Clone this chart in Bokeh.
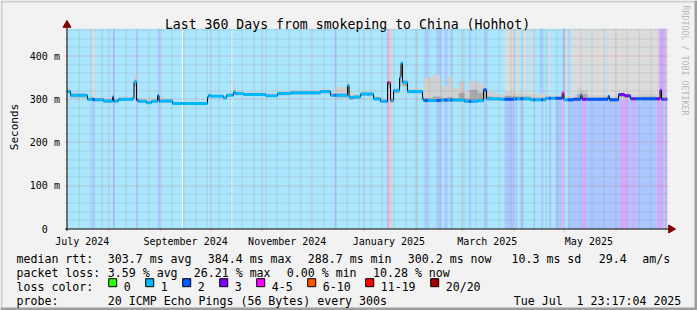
import bisect
import math
import pandas as pd
from bokeh.plotting import figure
from bokeh.models import Range1d
from bokeh.core.properties import value
from bokeh.embed import file_html
from bokeh.resources import INLINE

# ---------------- data ----------------
END_TIME = pd.Timestamp("2025-07-01 23:17:04")
SPAN_DAYS = 360
START_TIME = END_TIME - pd.Timedelta(days=SPAN_DAYS)
Y_TOP_MS = 463
SPLIT_MS = 300

title_text = "Last 360 Days from smokeping to China (Hohhot)"

# median rtt (step series, value holds from seg_day[i] to seg_day[i+1]); days since start
seg_day = [0.0, 2.0, 12.2, 15.8, 21.8, 27.2, 27.8, 30.8, 39.2, 40.1, 41.6, 42.8, 47.6, 50.6,
           54.2, 55.1, 63.2, 84.2, 84.8, 86.0, 93.8, 95.6, 99.8, 101.0, 105.8, 119.0, 126.2,
           134.0, 152.0, 158.0, 161.0, 168.2, 169.1, 171.8, 176.0, 183.8, 188.0, 192.2, 194.0,
           195.8, 199.4, 200.3, 201.2, 204.2, 213.2, 213.8, 219.2, 224.0, 228.2, 231.2, 234.8,
           238.4, 241.4, 246.2, 249.8, 251.6, 255.8, 259.4, 262.4, 269.0, 278.0, 287.0, 297.0,
           298.0, 303.8, 306.0, 308.0, 308.9, 312.2, 324.5, 325.4, 330.8, 334.4, 338.0, 344.0,
           353.6, 355.7, 356.6]
median_ms = [318, 309, 300, 299, 296, 305, 296, 300, 302, 340, 298, 295, 292, 295,
             308, 296, 290, 305, 309, 307, 303, 309, 316, 313, 311, 308, 313,
             315, 318, 309, 309, 332, 304, 305, 312, 301, 295, 338, 297,
             320, 350, 384, 339, 318, 301, 297, 297, 298, 298, 298, 298,
             295, 295, 297, 322, 301, 301, 300, 300, 301, 299, 302, 314,
             299, 300, 300, 308, 300, 300, 306, 299, 311, 308, 301, 301,
             301, 320, 300]
smoke_lo_ms = [314, 304, 296, 295, 291, 296, 292, 296, 297, 330, 294, 291, 289, 291,
               300, 292, 288, 300, 306, 305, 301, 306, 310, 309, 308, 305, 309,
               311, 313, 305, 304, 315, 299, 301, 308, 297, 291, 325, 292,
               314, 330, 360, 330, 314, 296, 293, 293, 294, 294, 294, 294,
               291, 291, 293, 300, 297, 297, 296, 296, 297, 295, 298, 300,
               295, 296, 296, 298, 296, 296, 298, 295, 304, 303, 297, 297,
               297, 302, 296]
smoke_mid_ms = [322, 312, 303, 302, 299, 309, 299, 303, 306, 345, 301, 298, 295, 298,
                311, 299, 292, 307, 311, 309, 305, 311, 322, 316, 313, 310, 316,
                318, 321, 312, 313, 336, 308, 308, 315, 304, 298, 342, 300,
                323, 360, 386, 342, 321, 305, 303, 306, 303, 305, 302, 315,
                302, 322, 315, 324, 306, 305, 304, 308, 306, 304, 305, 318,
                302, 304, 312, 318, 312, 304, 309, 302, 313, 311, 305, 306,
                305, 322, 304]
smoke_hi_ms = [326, 315, 306, 305, 302, 312, 302, 306, 310, 356, 305, 302, 299, 302,
               313, 302, 294, 309, 313, 311, 307, 313, 340, 319, 316, 313, 319,
               321, 324, 318, 328, 340, 316, 312, 318, 308, 302, 346, 304,
               326, 368, 388, 345, 324, 315, 350, 356, 330, 352, 325, 340,
               320, 342, 336, 326, 318, 312, 310, 317, 314, 312, 309, 320,
               306, 312, 325, 330, 322, 310, 311, 306, 316, 314, 309, 314,
               310, 324, 308]

# loss background bars below / above the split level (default level is "1")
lower_start = [15.0, 27.4, 41.6, 54.4, 68.8, 98.4, 160.4, 192.0, 193.2, 214.4, 221.6, 226.4,
               230.0, 241.0, 250.0, 262.4, 268.8, 272.0, 280.0, 284.4, 289.0, 293.0, 297.0,
               300.4, 309.0, 311.6, 331.6, 337.0, 339.0, 341.0, 353.6, 357.0, 358.6, 359.3]
lower_end = [16.6, 28.4, 42.2, 55.6, 69.4, 99.0, 161.4, 193.2, 194.4, 216.4, 224.4, 228.2,
             231.0, 242.4, 251.4, 268.0, 270.0, 273.6, 280.6, 285.6, 290.4, 297.0, 298.0,
             309.0, 311.6, 331.6, 337.0, 339.0, 341.0, 353.6, 357.0, 358.6, 359.3, 360.0]
lower_level = ["2", "2", "3", "2", "w", "w", "2", "3", "6-10", "2", "2", "2",
               "2", "2", "2", "2", "2", "2", "2", "2", "2", "2", "4-5",
               "2", "3", "2", "3", "2", "3", "2", "3", "2", "4-5", "2"]

upper_start = [15.0, 27.4, 41.6, 54.4, 68.8, 98.4, 160.4, 192.0, 193.2, 214.4, 221.6, 226.4,
               230.0, 241.0, 250.0, 262.8, 269.6, 273.6, 277.6, 283.6, 289.0, 297.2, 298.8,
               302.4, 312.0, 324.0, 355.0, 359.0]
upper_end = [16.6, 28.4, 42.2, 55.6, 69.4, 99.0, 161.4, 193.2, 194.4, 216.4, 224.4, 228.2,
             231.0, 242.4, 251.4, 268.0, 271.6, 275.6, 279.6, 285.6, 290.0, 298.8, 300.2,
             311.4, 323.4, 355.0, 359.0, 360.0]
upper_level = ["u", "2", "3", "2", "w", "w", "2", "3", "6-10", "2", "2", "2",
               "2", "2", "2", "u", "u", "u", "u", "2", "u", "2", "u",
               "u", "u", "u", "3", "u"]

loss_labels = ["0", "1", "2", "3", "4-5", "6-10", "11-19", "20/20"]
loss_colors = ["#26ff00", "#00b8ff", "#0059ff", "#7e00ff", "#ff00ff", "#ff5500", "#ff0000", "#a10000"]

label_months = ["2024-07-01", "2024-09-01", "2024-11-01", "2025-01-01", "2025-03-01", "2025-05-01"]
month_labels = ["July 2024", "September 2024", "November 2024", "January 2025", "March 2025", "May 2025"]
y_ticks_ms = [0, 100, 200, 300, 400]
y_tick_labels = ["0", "100 m", "200 m", "300 m", "400 m"]

rtt_items = ["median rtt:", "303.7 ms avg", "384.4 ms max", "288.7 ms min", "300.2 ms now",
             "10.3 ms sd", "29.4", "am/s"]
loss_items = ["packet loss:", "3.59 % avg", "26.21 % max", "0.00 % min", "10.28 % now"]
probe_items = ["probe:", "20 ICMP Echo Pings (56 Bytes) every 300s", "Tue Jul \u00a01 23:17:04 2025"]

# ---------------- layout helpers (pixels of the 697x310 canvas) ----------------
W, H = 697, 310
X0_PX, X1_PX = 66.7, 666.7
Y0_PX, Y1_PX = 228.3, 28.3
PXD = (X1_PX - X0_PX) / SPAN_DAYS
PXM = (Y0_PX - Y1_PX) / Y_TOP_MS


def fx(px):
    return (px - X0_PX) / PXD


def fy(py):
    return (Y0_PX - py) / PXM


def snap_day(d):
    return fx(math.floor(X0_PX + d * PXD) + 0.5)


def snap_ms(v):
    return fy(math.floor(Y0_PX - v * PXM) + 0.5)


def day_of(ts):
    return (pd.Timestamp(ts) - START_TIME) / pd.Timedelta(days=1)


def light(c):
    r, g, b = int(c[1:3], 16), int(c[3:5], 16), int(c[5:7], 16)
    return "#%02x%02x%02x" % tuple(int(round(v / 3 + 170)) for v in (r, g, b))


level_line = {"1": "#00b8ff", "2": "#0059ff", "3": "#7e00ff", "4-5": "#ff00ff",
              "6-10": "#ff5500", "w": "#00b8ff", "u": "#00b8ff"}
level_bg = {k: light(v) for k, v in level_line.items() if k not in ("w", "u")}
level_bg["w"] = "#ffffff"
level_bg["u"] = "#dcdcdc"

MONO = value("DejaVu Sans Mono")
BG = "#f2f2f2"
GRID = "#8f8f8f"
MGRID = "#de5050"

p = figure(width=W, height=H, x_range=Range1d(fx(0), fx(W)), y_range=Range1d(fy(H), fy(0)),
           x_axis_type=None, y_axis_type=None, toolbar_location=None, output_backend="svg",
           min_border=0, min_border_left=0, min_border_right=0, min_border_top=0, min_border_bottom=0,
           background_fill_color=BG, border_fill_color=BG, outline_line_color=None)
p.grid.visible = False

# canvas shade border
p.quad(left=[fx(0), fx(0)], right=[fx(W), fx(2)], top=[fy(0), fy(0)], bottom=[fy(2), fy(H)],
       color="#d0d0d0", line_color=None)
p.quad(left=[fx(0), fx(W - 3)], right=[fx(W), fx(W)], top=[fy(H - 3), fy(0)], bottom=[fy(H), fy(H)],
       color="#9e9e9e", line_color=None)

# loss background
p.quad(left=[0], right=[SPAN_DAYS], bottom=[0], top=[Y_TOP_MS], color=level_bg["1"], line_color=None)
p.quad(left=lower_start, right=lower_end, bottom=0, top=SPLIT_MS,
       color=[level_bg[l] for l in lower_level], line_color=None)
p.quad(left=upper_start, right=upper_end, bottom=SPLIT_MS, top=Y_TOP_MS,
       color=[level_bg[l] for l in upper_level], line_color=None)

# smoke
seg_end = seg_day[1:] + [SPAN_DAYS]
p.quad(left=seg_day, right=seg_end, bottom=smoke_mid_ms, top=smoke_hi_ms, color="#d0d0d0", line_color=None)
p.quad(left=seg_day, right=seg_end, bottom=smoke_lo_ms, top=smoke_mid_ms, color="#a8a8a8", line_color=None)

# grid
gx0, gx1 = fx(X0_PX - 2), fx(X1_PX + 2)
minor_y = [snap_ms(v) for v in range(20, Y_TOP_MS, 20) if v % 100]
major_y = [snap_ms(v) for v in y_ticks_ms if v > 0]
p.segment(x0=gx0, x1=gx1, y0=minor_y, y1=minor_y, line_color=GRID, line_alpha=0.5, line_dash="1 1")
month_starts = pd.date_range("2024-08-01", END_TIME, freq="MS")
month_days = [snap_day(day_of(m)) for m in month_starts]
weeks = [snap_day(day_of(w)) for w in pd.date_range(START_TIME.normalize(), END_TIME, freq="W-SUN")
         if w.day != 1 and w > START_TIME]
p.segment(x0=weeks, x1=weeks, y0=0, y1=Y_TOP_MS, line_color=GRID, line_alpha=0.5, line_dash="1 1")
p.segment(x0=gx0, x1=gx1, y0=major_y, y1=major_y, line_color=MGRID, line_alpha=0.5, line_dash="1 1")
p.segment(x0=month_days, x1=month_days, y0=fy(Y0_PX + 2.5), y1=Y_TOP_MS, line_color=MGRID,
          line_alpha=0.5, line_dash="1 1")

# median line: black steps, coloured by loss level
p.step(x=seg_day + [SPAN_DAYS], y=median_ms + [median_ms[-1]], mode="after", line_color="black", line_width=1)
bounds = sorted(set([b for b in seg_day + lower_start + lower_end + [SPAN_DAYS] if 0 <= b <= SPAN_DAYS]))
sx0, sx1, sy, sc = [], [], [], []
for a, b in zip(bounds[:-1], bounds[1:]):
    mid = (a + b) / 2
    i = bisect.bisect_right(seg_day, mid) - 1
    lvl = "1"
    for s, e, l in zip(lower_start, lower_end, lower_level):
        if s <= mid < e:
            lvl = l
    sx0.append(a); sx1.append(b); sy.append(median_ms[i]); sc.append(level_line[lvl])
p.segment(x0=sx0, x1=sx1, y0=sy, y1=sy, line_color=sc, line_width=3)

# axes
ax_y = snap_ms(0)
ax_x = snap_day(0)
p.segment(x0=[fx(X0_PX - 2)], x1=[fx(669)], y0=[ax_y], y1=[ax_y], line_color="black", line_width=1)
p.segment(x0=[ax_x], x1=[ax_x], y0=[fy(Y0_PX + 2)], y1=[fy(24)], line_color="black", line_width=1)
p.scatter(x=[ax_x], y=[fy(24.5)], marker="triangle", size=8, color="#800000")
p.scatter(x=[fx(670.5)], y=[ax_y], marker="triangle", size=8, angle=-1.5708, color="#800000")

# title and axis texts
p.text(x=[fx(347)], y=[fy(24)], text=[title_text], text_font=MONO, text_font_size=value("13.2px"),
       text_align="center", text_baseline="alphabetic", text_color="black")
lab_days = [day_of(pd.Timestamp(m) + pd.Timedelta(days=15)) for m in label_months]
p.text(x=lab_days, y=fy(240.7), text=month_labels, text_font=MONO, text_font_size=value("10px"),
       text_align="center", text_baseline="alphabetic", text_color="black")
yl_x = [fx(59.4) if " " in t else fx(59.4 - 12.04) for t in y_tick_labels]
p.text(x=yl_x, y=y_ticks_ms, text=y_tick_labels, text_font=MONO, text_font_size=value("10px"),
       text_align="right", text_baseline="middle", text_color="black")
p.text(x=[fx(14.2)], y=[fy(126.5)], text=["Seconds"], angle=1.5708, text_font=MONO,
       text_font_size=value("11px"), text_align="center", text_baseline="alphabetic", text_color="black")
p.text(x=[fx(685)], y=[fy(5)], text=["RRDTOOL / TOBI OETIKER"], angle=-1.5708, text_font=MONO,
       text_font_size=value("8.3px"), text_align="left", text_baseline="alphabetic", text_color="#b8b8b8")

# legend
LEG = value("11.6px")
p.text(x=[fx(v) for v in [16, 107.3, 207.3, 307.3, 407.3, 511, 598.3, 641.7]], y=fy(258.3), text=rtt_items,
       text_font=MONO, text_font_size=LEG, text_baseline="alphabetic", text_color="black")
p.text(x=[fx(v) for v in [16, 107.3, 193.3, 286.3, 372.5]], y=fy(272.3), text=loss_items,
       text_font=MONO, text_font_size=LEG, text_baseline="alphabetic", text_color="black")
p.text(x=[fx(16)], y=[fy(286)], text=["loss color:"],
       text_font=MONO, text_font_size=LEG, text_baseline="alphabetic", text_color="black")
box_x, lab_x = [], []
left = 108.2
for lab in loss_labels:
    box_x.append(fx(left + 4))
    lab_x.append(fx(left + 15))
    left = left + 15 + 7 * len(lab) + 15
p.scatter(x=box_x, y=fy(282.2), marker="square", size=8, fill_color=loss_colors, line_color="black", line_width=1)
p.text(x=lab_x, y=fy(286), text=loss_labels,
       text_font=MONO, text_font_size=LEG, text_baseline="alphabetic", text_color="black")
p.text(x=[fx(v) for v in [16, 107.3, 513.3]], y=fy(300), text=probe_items,
       text_font=MONO, text_font_size=LEG, text_baseline="alphabetic", text_color="black")

open("out.html", "w").write(file_html(p, INLINE))
